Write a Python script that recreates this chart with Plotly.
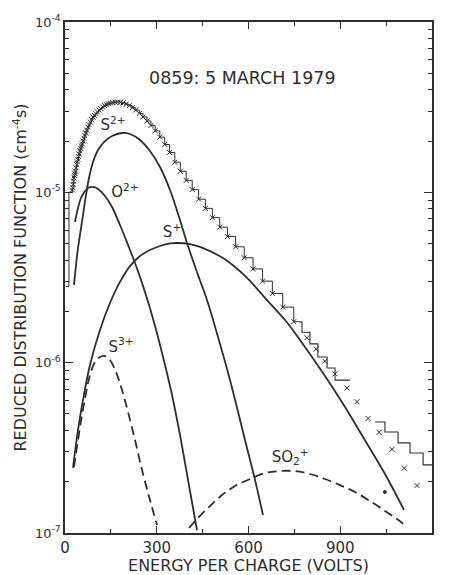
import plotly.graph_objects as go

# Measured reduced distribution function vs energy per charge
energy = [24, 25, 26.5, 28, 29.5, 31, 32.5, 34, 36, 38, 40, 42, 44, 46, 48.5, 51, 53.5,
          56, 59, 62, 65, 68, 71.5, 75, 79, 83, 87, 91.5, 96, 101, 106, 111, 117, 123,
          129, 135, 142, 149, 156, 164, 172, 181, 190, 200, 210, 220, 231, 243, 255,
          268, 281, 295, 310, 326, 342, 359, 377, 396, 416, 437, 459, 482, 506, 531,
          558, 586, 615, 646, 678, 712, 748, 791, 821, 850, 883, 922, 955, 991, 1027,
          1069, 1109, 1151]
f_obs = [1.033e-5, 1.064e-5, 1.112e-5, 1.161e-5, 1.213e-5, 1.253e-5, 1.291e-5, 1.334e-5,
         1.393e-5, 1.452e-5, 1.510e-5, 1.563e-5, 1.622e-5, 1.679e-5, 1.754e-5, 1.816e-5,
         1.871e-5, 1.928e-5, 2.000e-5, 2.075e-5, 2.153e-5, 2.228e-5, 2.317e-5, 2.415e-5,
         2.495e-5, 2.582e-5, 2.667e-5, 2.767e-5, 2.825e-5, 2.897e-5, 2.965e-5, 3.041e-5,
         3.105e-5, 3.170e-5, 3.236e-5, 3.273e-5, 3.311e-5, 3.342e-5, 3.365e-5, 3.381e-5,
         3.388e-5, 3.373e-5, 3.350e-5, 3.289e-5, 3.228e-5, 3.141e-5, 3.041e-5, 2.904e-5,
         2.773e-5, 2.624e-5, 2.466e-5, 2.296e-5, 2.109e-5, 1.910e-5, 1.714e-5, 1.503e-5,
         1.330e-5, 1.175e-5, 1.038e-5, 9.12e-6, 8.05e-6, 7.10e-6, 6.25e-6, 5.50e-6,
         4.79e-6, 4.13e-6, 3.55e-6, 3.01e-6, 2.55e-6, 2.12e-6, 1.74e-6, 1.40e-6, 1.20e-6,
         1.02e-6, 8.6e-7, 7.1e-7, 5.9e-7, 4.7e-7, 3.9e-7, 3.1e-7, 2.4e-7, 1.9e-7]

# Stepped (histogram) record: low-energy edge, and two high-energy stretches
hist_lo_x = [3, 13, 13]
hist_lo_y = [2.8e-6, 2.8e-6, 1.0e-5]
hist_mid_x = [768, 775, 801, 827, 857, 883, 932]
hist_mid_y = [1.73e-6, 1.51e-6, 1.29e-6, 1.08e-6, 9.3e-7, 7.9e-7, 7.9e-7]
hist_hi_x = [1014, 1046, 1089, 1128, 1171, 1200]
hist_hi_y = [4.48e-7, 3.92e-7, 3.38e-7, 2.95e-7, 2.51e-7, 2.51e-7]

# Isolated point
dot_x = [1046]
dot_y = [1.74e-7]

# Fitted ion components
s2_x = [29.4, 36.0, 42.5, 49.0, 58.9, 68.7, 78.5, 91.6, 107.9, 127.5, 153.7, 186.4, 212.5,
        245.2, 277.9, 310.6, 343.3, 376.0, 398.9, 431.6, 464.3, 500.3, 539.5, 588.6,
        621.3, 647.4]
s2_y = [2.86e-6, 3.74e-6, 4.71e-6, 5.62e-6, 7.36e-6, 9.65e-6, 1.214e-5, 1.507e-5, 1.772e-5,
        1.974e-5, 2.141e-5, 2.230e-5, 2.20e-5, 2.03e-5, 1.748e-5, 1.408e-5, 1.032e-5,
        6.88e-6, 5.04e-6, 3.40e-6, 2.33e-6, 1.415e-6, 7.91e-7, 3.52e-7, 2.05e-7, 1.275e-7]

o2_x = [32.7, 42.5, 52.3, 65.4, 78.5, 91.6, 107.9, 130.8, 153.7, 179.8, 206.0, 228.9,
        251.8, 277.9, 300.8, 327.0, 349.9, 376.0, 402.2, 431.6]
o2_y = [6.70e-6, 8.09e-6, 9.26e-6, 1.018e-5, 1.068e-5, 1.075e-5, 1.046e-5, 9.52e-6,
        8.20e-6, 6.43e-6, 4.91e-6, 3.85e-6, 2.94e-6, 2.09e-6, 1.49e-6, 9.69e-7, 6.46e-7,
        3.76e-7, 2.05e-7, 1.04e-7]

s1_x = [26.2, 42.5, 58.9, 81.7, 114.4, 147.1, 179.8, 212.5, 245.2, 277.9, 310.6, 343.3,
        369.5, 408.7, 441.4, 516.6, 588.6, 660.5, 719.4, 768.4, 850.2, 915.6, 974.4,
        1046.3, 1108.5]
s1_y = [2.41e-7, 4.02e-7, 6.04e-7, 9.69e-7, 1.555e-6, 2.24e-6, 2.98e-6, 3.69e-6, 4.23e-6,
        4.59e-6, 4.84e-6, 5.01e-6, 5.04e-6, 4.97e-6, 4.78e-6, 4.11e-6, 3.23e-6, 2.33e-6,
        1.78e-6, 1.36e-6, 8.35e-7, 5.49e-7, 3.66e-7, 2.22e-7, 1.365e-7]

s3_x = [29.4, 42.5, 55.6, 68.7, 81.7, 98.1, 114.4, 130.8, 147.1, 166.8, 186.4, 206.0,
        228.9, 251.8, 277.9, 300.8]
s3_y = [2.44e-7, 3.52e-7, 4.93e-7, 6.64e-7, 8.46e-7, 1.009e-6, 1.079e-6, 1.094e-6,
        1.037e-6, 8.81e-7, 6.91e-7, 5.13e-7, 3.52e-7, 2.34e-7, 1.562e-7, 1.113e-7]

so2_x = [405.5, 434.9, 474.1, 513.4, 555.9, 604.9, 654.0, 703.0, 752.1, 801.1, 850.2,
         899.2, 948.2, 997.3, 1046.3, 1085.6, 1111.7]
so2_y = [1.07e-7, 1.225e-7, 1.44e-7, 1.67e-7, 1.887e-7, 2.075e-7, 2.25e-7, 2.31e-7,
         2.31e-7, 2.22e-7, 2.075e-7, 1.91e-7, 1.74e-7, 1.54e-7, 1.346e-7, 1.208e-7,
         1.113e-7]

# Component labels
label_text = ["S<sup>2+</sup>", "O<sup>2+</sup>", "S<sup>+</sup>", "S<sup>3+</sup>",
              "SO<sub>2</sub><sup>+</sup>"]
label_x = [157, 196, 350, 183, 736]
label_y = [2.45e-5, 9.9e-6, 5.75e-6, 1.22e-6, 2.75e-7]

INK = "#2e2e2e"
FONT = "DejaVu Sans"

fig = go.Figure()

n_dense = energy.index(748) + 1
fig.add_trace(go.Scatter(
    x=hist_lo_x + energy[:n_dense] + [768],
    y=hist_lo_y + f_obs[:n_dense] + [1.73e-6],
    mode="lines", line=dict(color=INK, width=1, shape="hv"), hoverinfo="skip"))
fig.add_trace(go.Scatter(x=hist_mid_x, y=hist_mid_y, mode="lines",
                         line=dict(color=INK, width=1.1, shape="hv")))
fig.add_trace(go.Scatter(x=hist_hi_x, y=hist_hi_y, mode="lines",
                         line=dict(color=INK, width=1.1, shape="hv")))

fig.add_trace(go.Scatter(x=energy, y=f_obs, mode="markers",
                         marker=dict(symbol="x-thin", size=5,
                                     line=dict(color=INK, width=1))))
fig.add_trace(go.Scatter(x=dot_x, y=dot_y, mode="markers",
                         marker=dict(symbol="circle", size=4, color=INK)))

solid = dict(color=INK, width=1.8, shape="spline")
dashed = dict(color=INK, width=1.8, shape="spline", dash="9px,5px")
fig.add_trace(go.Scatter(x=s2_x, y=s2_y, mode="lines", line=solid))
fig.add_trace(go.Scatter(x=o2_x, y=o2_y, mode="lines", line=solid))
fig.add_trace(go.Scatter(x=s1_x, y=s1_y, mode="lines", line=solid))
fig.add_trace(go.Scatter(x=s3_x, y=s3_y, mode="lines", line=dashed))
fig.add_trace(go.Scatter(x=so2_x, y=so2_y, mode="lines", line=dashed))

fig.add_trace(go.Scatter(x=label_x, y=label_y, mode="text", text=label_text,
                         textfont=dict(family=FONT, size=15, color=INK),
                         textposition="middle center"))

fig.add_annotation(text="0859: 5 MARCH 1979", xref="paper", yref="paper",
                   x=0.485, y=0.914, showarrow=False,
                   font=dict(family=FONT, size=17.5, color=INK))

fig.update_layout(
    width=449, height=575,
    margin=dict(l=65, r=17, t=22, b=42),
    paper_bgcolor="white", plot_bgcolor="white",
    showlegend=False,
    font=dict(family=FONT, color=INK),
)
fig.update_xaxes(
    range=[0, 1200], tickvals=[0, 300, 600, 900, 1200], automargin=False,
    ticks="inside", ticklen=7, tickwidth=1.2, tickcolor=INK,
    showline=True, linecolor=INK, linewidth=1.5, mirror="allticks",
    showgrid=False, zeroline=False,
    tickfont=dict(family=FONT, size=15, color=INK),
    minor=dict(tickvals=[150, 450, 750, 1050], ticks="inside", ticklen=4,
               tickcolor=INK, showgrid=False),
    title=dict(text="ENERGY PER CHARGE (VOLTS)", standoff=6,
               font=dict(family=FONT, size=16, color=INK)),
)
minor_y = [m * 10 ** e for e in (-7, -6, -5) for m in range(2, 10)]
fig.update_yaxes(
    type="log", range=[-7, -4], automargin=False,
    tickvals=[1e-7, 1e-6, 1e-5, 1e-4],
    ticktext=["10<sup>-7</sup>", "10<sup>-6</sup>", "10<sup>-5</sup>", "10<sup>-4</sup>"],
    ticks="inside", ticklen=8, tickwidth=1.2, tickcolor=INK,
    showline=True, linecolor=INK, linewidth=1.5, mirror="allticks",
    showgrid=False, zeroline=False,
    tickfont=dict(family=FONT, size=13, color=INK),
    minor=dict(tickvals=minor_y, ticks="inside", ticklen=4, tickcolor=INK,
               showgrid=False),
    title=dict(text="REDUCED DISTRIBUTION FUNCTION (cm<sup>-4</sup>s)", standoff=4,
               font=dict(family=FONT, size=16, color=INK)),
)

fig.write_html("out.html")
